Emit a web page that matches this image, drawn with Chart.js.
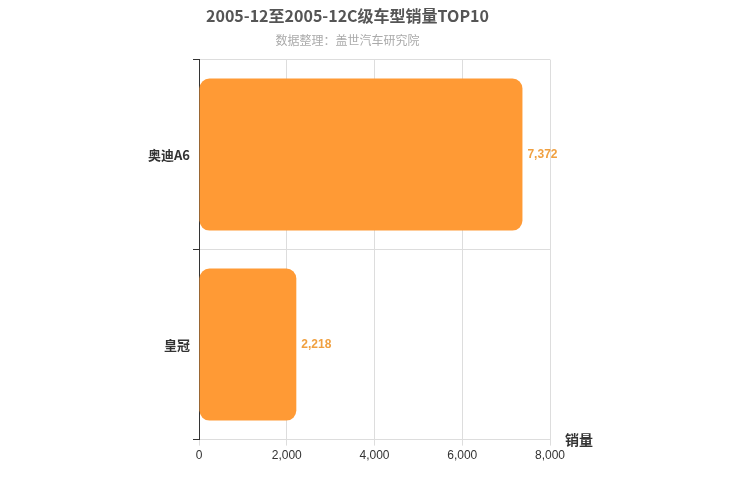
<!DOCTYPE html>
<html><head><meta charset="utf-8">
<script src="https://cdn.jsdelivr.net/npm/chart.js@4/dist/chart.umd.min.js"></script>
<style>body{margin:0;background:#fff}#w{width:750px;height:500px}</style>
</head><body><div id="w"><canvas id="c"></canvas></div>
<script>
const categories = ["奥迪A6", "皇冠"];
const sales = [7372, 2218];
const xTicks = [0, 2000, 4000, 6000, 8000];

const labelPlugin = {
  id: 'lbl',
  afterDatasetsDraw(chart) {
    const ctx = chart.ctx;
    const meta = chart.getDatasetMeta(0);
    ctx.save();
    ctx.font = 'bold 12px "Liberation Sans", Arial, sans-serif';
    ctx.fillStyle = '#f0a040';
    ctx.textBaseline = 'middle';
    meta.data.forEach((b, i) => {
      ctx.fillText(sales[i].toLocaleString('en-US'), b.x + 5, b.y);
    });
    const a = chart.chartArea;
    ctx.font = 'bold 14px "Noto Sans CJK SC", sans-serif';
    ctx.fillStyle = '#333';
    ctx.textBaseline = 'middle';
    ctx.fillText('销量', a.right + 15, a.bottom);
    ctx.restore();
  }
};

new Chart(document.getElementById('c'), {
  type: 'bar',
  data: { labels: categories, datasets: [{ data: sales, backgroundColor: '#ff9a35', borderRadius: 10, borderSkipped: false, categoryPercentage: 0.8, barPercentage: 1 }] },
  options: {
    indexAxis: 'y', responsive: true, maintainAspectRatio: false, animation: false,
    layout: { padding: { left: 145, right: 200, top: 0, bottom: 34 } },
    plugins: {
      legend: { display: false }, tooltip: { enabled: false },
      title: { display: true, text: '2005-12至2005-12C级车型销量TOP10', color: '#555', font: { size: 16, weight: 'bold', family: '"Noto Sans CJK SC", sans-serif' }, padding: { top: 6, bottom: 8 } },
      subtitle: { display: true, text: '数据整理：盖世汽车研究院', color: '#aaa', font: { size: 12, family: '"Noto Sans CJK SC", sans-serif' }, padding: { bottom: 12 } }
    },
    scales: {
      x: { min: 0, max: 8000, afterBuildTicks: ax => { ax.ticks = xTicks.map(v => ({ value: v })); },
        ticks: { color: '#333', font: { size: 12 }, callback: v => v.toLocaleString('en-US') },
        grid: { color: '#ddd', drawTicks: true, tickLength: 6 }, border: { color: '#ddd' } },
      y: { ticks: { color: '#333', font: { size: 13, weight: 'bold', family: '"Noto Sans CJK SC", sans-serif' } },
        grid: { color: '#ddd', offset: true, tickLength: 6, tickColor: '#333' }, border: { color: '#333' } }
    }
  },
  plugins: [labelPlugin]
});
</script></body></html>
